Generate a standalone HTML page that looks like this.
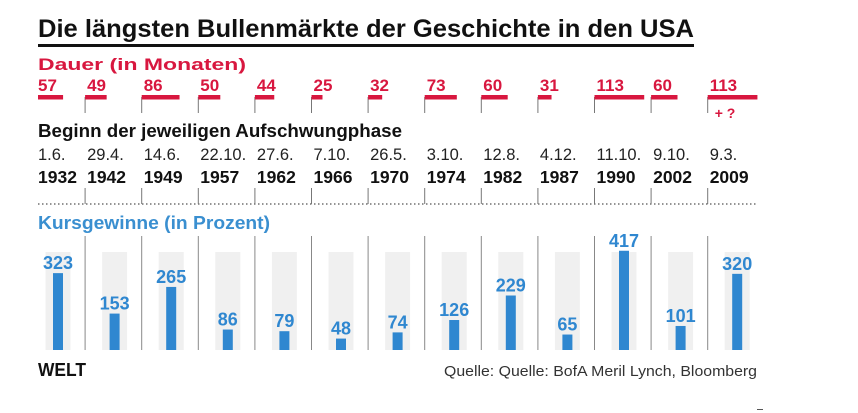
<!DOCTYPE html>
<html><head><meta charset="utf-8"><style>
body{margin:0;background:#fff;}
svg{display:block;font-family:"Liberation Sans",sans-serif;}
</style></head><body>
<svg id="chart" width="858" height="413" viewBox="0 0 858 413">
<text x="38" y="37" font-size="25" font-weight="bold" textLength="656" lengthAdjust="spacingAndGlyphs" fill="#111">Die längsten Bullenmärkte der Geschichte in den USA</text>
<rect x="38" y="44" width="656" height="3" fill="#111"/>
<text x="38" y="70" font-size="17" font-weight="bold" textLength="208" lengthAdjust="spacingAndGlyphs" fill="#d8173f">Dauer (in Monaten)</text>
<text x="38" y="137" font-size="18" font-weight="bold" textLength="364" lengthAdjust="spacingAndGlyphs" fill="#111">Beginn der jeweiligen Aufschwungphase</text>
<text x="38" y="229" font-size="18" font-weight="bold" textLength="232" lengthAdjust="spacingAndGlyphs" fill="#3a8fd0">Kursgewinne (in Prozent)</text>
<line x1="38" y1="204" x2="757" y2="204" stroke="#555" stroke-width="1.2" stroke-dasharray="1.5,2.5"/>
<g id="cols"></g>
<text x="38" y="376" font-size="18" font-weight="900" textLength="48" lengthAdjust="spacingAndGlyphs" fill="#111">WELT</text>
<text x="757" y="376" font-size="15" fill="#333" text-anchor="end" textLength="313" lengthAdjust="spacingAndGlyphs">Quelle: Quelle: BofA Meril Lynch, Bloomberg</text>
<rect x="757" y="409" width="6" height="1" fill="#555"/>
</svg>
<script>
const months=[57,49,86,50,44,25,32,73,60,31,113,60,113];
const days=["1.6.","29.4.","14.6.","22.10.","27.6.","7.10.","26.5.","3.10.","12.8.","4.12.","11.10.","9.10.","9.3."];
const years=["1932","1942","1949","1957","1962","1966","1970","1974","1982","1987","1990","2002","2009"];
const gains=[323,153,265,86,79,48,74,126,229,65,417,101,320];
const NS="http://www.w3.org/2000/svg";
const g=document.getElementById('cols');
const sepX=i=>28.5+56.6*i;
const monthW=m=>m*0.44;
const baseY=350, gainH=v=>v*0.238;
function mk(tag,attrs){const e=document.createElementNS(NS,tag);for(const k in attrs)e.setAttribute(k,attrs[k]);g.appendChild(e);return e;}
months.forEach((m,i)=>{
  const s=sepX(i), left=i===0?38:s, tx=i===0?38:s+2, cx=s+29.5;
  if(i>0){
    let l=mk('line',{x1:s,y1:97,x2:s,y2:113,stroke:'#777','stroke-width':1});
    
    l=mk('line',{x1:s,y1:188,x2:s,y2:204,stroke:'#777','stroke-width':1});
    
    l=mk('line',{x1:s,y1:236,x2:s,y2:baseY,stroke:'#888','stroke-width':1});
    
  }
  let r=mk('rect',{x:left,y:95,width:monthW(m),height:4.5,fill:'#d8173f'});
  
  let t=mk('text',{x:tx,y:91,'font-size':17,'font-weight':'bold',fill:'#d8173f'});t.textContent=m;
  
  t=mk('text',{x:tx,y:160,'font-size':16.5,fill:'#222'});t.textContent=days[i];
  
  t=mk('text',{x:tx,y:183,'font-size':17.5,'font-weight':'bold',fill:'#111'});t.textContent=years[i];
  
  r=mk('rect',{x:cx-12.5,y:252,width:25,height:baseY-252,fill:'#f0f0f0'});
  
  const h=gainH(gains[i]);
  r=mk('rect',{x:cx-5,y:baseY-h,width:10,height:h,fill:'#2f87d0'});
  
  t=mk('text',{x:cx,y:baseY-h-4,'font-size':18,'font-weight':'bold',fill:'#2f87d0','text-anchor':'middle'});t.textContent=gains[i];
  
});
let q=mk('text',{x:sepX(12)+7,y:118,'font-size':14,'font-weight':'bold',fill:'#d8173f'});q.textContent='+ ?';

</script>
</body></html>
